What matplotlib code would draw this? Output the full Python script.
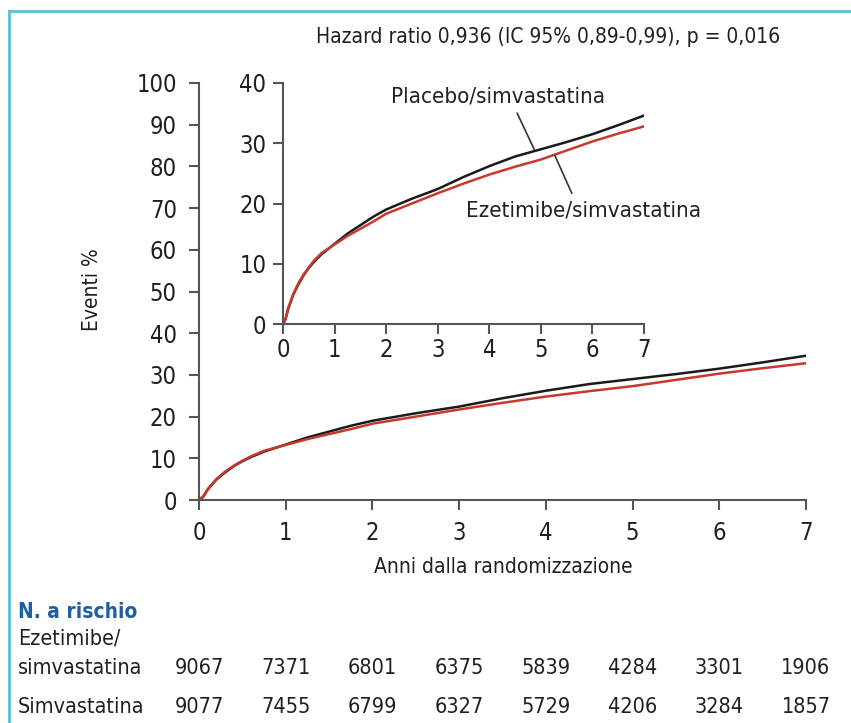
import matplotlib.pyplot as plt
import matplotlib.transforms as mtransforms
from matplotlib import font_manager

# pick a narrow font if there is one
names = {f.name for f in font_manager.fontManager.ttflist}
if "Liberation Sans Narrow" in names:
    plt.rcParams["font.family"] = ["Liberation Sans Narrow", "DejaVu Sans"]
    stretch = "normal"
else:
    plt.rcParams["font.family"] = ["DejaVu Sans"]
    stretch = "condensed"
plt.rcParams["font.stretch"] = stretch

# data
years = [0, 0.05, 0.1, 0.2, 0.3, 0.4, 0.5, 0.6, 0.75, 1.0, 1.25, 1.5, 1.75, 2.0,
         2.5, 3.0, 3.5, 4.0, 4.5, 5.0, 5.5, 6.0, 6.5, 7.0]
placebo = [0, 0.8, 2.5, 4.9, 6.6, 8.1, 9.3, 10.3, 11.6, 13.3, 15.0, 16.4, 17.8, 19.0,
           20.8, 22.4, 24.4, 26.2, 27.8, 29.0, 30.2, 31.5, 33.0, 34.6]
ezetimibe = [0, 0.9, 2.6, 5.0, 6.8, 8.2, 9.4, 10.5, 11.8, 13.2, 14.6, 15.8, 17.0, 18.3,
             20.0, 21.7, 23.3, 24.8, 26.1, 27.3, 28.8, 30.3, 31.6, 32.8]

risk_years = [0, 1, 2, 3, 4, 5, 6, 7]
risk_ezetimibe = [9067, 7371, 6801, 6375, 5839, 4284, 3301, 1906]
risk_simva = [9077, 7455, 6799, 6327, 5729, 4206, 3284, 1857]

text_color = "#231f20"
axis_color = "#555555"
black = "#1a1a1a"
red = "#c9382c"
blue = "#1f5fa0"
frame = "#5bbfdc"

W, H = 851, 723
fig = plt.figure(figsize=(W / 100, H / 100), dpi=100)


def fx(px):
    return px / W


def fy(py):
    return 1 - py / H


def style_axes(ax, pad_x, pad_y):
    for s in ["top", "right"]:
        ax.spines[s].set_visible(False)
    for s in ["left", "bottom"]:
        ax.spines[s].set_color(axis_color)
        ax.spines[s].set_linewidth(1.5)
    ax.tick_params(axis="both", direction="out", length=7, width=1.5,
                   color=axis_color, labelsize=17, labelcolor=text_color)
    ax.tick_params(axis="x", pad=pad_x)
    ax.tick_params(axis="y", pad=pad_y)
    ax.patch.set_alpha(0)


# main plot
ax = fig.add_axes([fx(199), fy(500), fx(806) - fx(199), fy(83) - fy(500)])
ax.plot(years, placebo, color=black, lw=1.8, solid_joinstyle="round")
ax.plot(years, ezetimibe, color=red, lw=1.8, solid_joinstyle="round")
ax.set_xlim(0, 7)
ax.set_ylim(0, 100)
ax.set_xticks(range(0, 8))
ax.set_yticks(range(0, 101, 10))
style_axes(ax, 8, 9)

# inset
axi = fig.add_axes([fx(283), fy(324), fx(644) - fx(283), fy(83) - fy(324)])
axi.plot(years, placebo, color=black, lw=1.8, solid_joinstyle="round")
axi.plot(years, ezetimibe, color=red, lw=1.8, solid_joinstyle="round")
axi.set_xlim(0, 7)
axi.set_ylim(0, 40)
axi.set_xticks(range(0, 8))
axi.set_yticks(range(0, 41, 10))
style_axes(axi, 3, 5)

# curve labels with leader lines
leader = dict(arrowstyle="-", color="#333333", lw=1.2, shrinkA=0, shrinkB=0)
axi.text(4.17, 37.7, "Placebo/simvastatina", ha="center", va="center",
         fontsize=16, color=text_color)
axi.annotate("", xy=(4.87, 29.0), xytext=(4.54, 35.0), arrowprops=leader)
axi.text(5.83, 18.9, "Ezetimibe/simvastatina", ha="center", va="center",
         fontsize=16, color=text_color)
axi.annotate("", xy=(5.27, 28.0), xytext=(5.6, 21.7), arrowprops=leader)

# labels and title
fig.text(fx(548), fy(37), "Hazard ratio 0,936 (IC 95% 0,89-0,99), p = 0,016",
         ha="center", va="center", fontsize=15, color=text_color)
fig.text(fx(503), fy(567), "Anni dalla randomizzazione",
         ha="center", va="center", fontsize=15, color=text_color)
fig.text(fx(92), fy(290), "Eventi %", rotation=90,
         ha="center", va="center", fontsize=15, color=text_color)

# numbers at risk
fig.text(fx(18), fy(612), "N. a rischio", ha="left", va="center",
         fontsize=15, fontweight="bold", color=blue)
fig.text(fx(18), fy(638), "Ezetimibe/", ha="left", va="center",
         fontsize=15.5, color=text_color)
fig.text(fx(18), fy(668), "simvastatina", ha="left", va="center",
         fontsize=15.5, color=text_color)
fig.text(fx(18), fy(707), "Simvastatina", ha="left", va="center",
         fontsize=15.5, color=text_color)
trans = mtransforms.blended_transform_factory(ax.transData, fig.transFigure)
for x, n1, n2 in zip(risk_years, risk_ezetimibe, risk_simva):
    ax.text(x, fy(668), str(n1), transform=trans, ha="center", va="center",
            fontsize=15.5, color=text_color, clip_on=False)
    ax.text(x, fy(707), str(n2), transform=trans, ha="center", va="center",
            fontsize=15.5, color=text_color, clip_on=False)

# light blue frame on top and left
fig.add_artist(plt.Line2D([fx(9), 1], [fy(11), fy(11)], color=frame, lw=2))
fig.add_artist(plt.Line2D([fx(9), fx(9)], [fy(11), 0], color=frame, lw=2))

fig.savefig("out.png", dpi=100)
